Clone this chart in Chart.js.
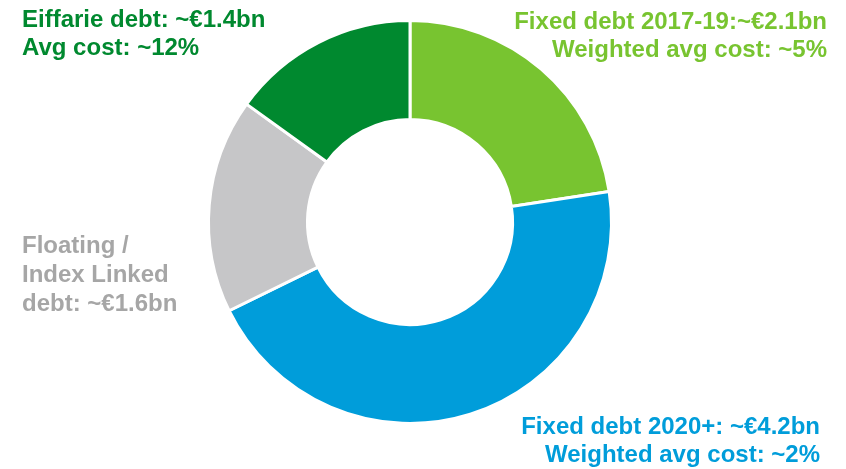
<!DOCTYPE html>
<html>
<head>
<meta charset="utf-8">
<script src="https://cdn.jsdelivr.net/npm/chart.js@4"></script>
<style>
  html, body { margin: 0; padding: 0; background: #fff; }
  #wrap { width: 846px; height: 469px; position: relative; }
</style>
</head>
<body>
<div id="wrap"><canvas id="debt"></canvas></div>
<script>
// segments, clockwise from 12 o'clock
const categories = ["Fixed debt 2017-19", "Fixed debt 2020+", "Floating / Index Linked", "Eiffarie debt"];
const amounts = [2.1, 4.2, 1.6, 1.4]; // €bn
const colors = ["#78c430", "#009dda", "#c6c6c8", "#00892f"];

// callout texts (one array of lines per segment)
const calloutLines = [
  ["Fixed debt 2017-19:~€2.1bn", "Weighted avg cost: ~5%"],
  ["Fixed debt 2020+: ~€4.2bn", "Weighted avg cost: ~2%"],
  ["Floating /", "Index Linked", "debt: ~€1.6bn"],
  ["Eiffarie debt: ~€1.4bn", "Avg cost: ~12%"]
];
const calloutColors = ["#78c430", "#009dda", "#a6a6a6", "#00892f"];

// where each callout sits: anchor x, first baseline, alignment
const calloutPos = [
  { x: 827, y: 29, align: "right" },
  { x: 820, y: 434, align: "right" },
  { x: 22, y: 253, align: "left" },
  { x: 22, y: 27, align: "left" }
];

const callouts = {
  id: "callouts",
  afterDraw(chart) {
    const ctx = chart.ctx;
    ctx.save();
    ctx.font = "bold 24px 'Liberation Sans', Arial, sans-serif";
    ctx.textBaseline = "alphabetic";
    calloutLines.forEach((lines, i) => {
      const p = calloutPos[i];
      ctx.fillStyle = calloutColors[i];
      ctx.textAlign = p.align;
      const lh = lines.length > 2 ? 29 : 27.5;
      lines.forEach((t, j) => ctx.fillText(t, p.x, p.y + j * lh));
    });
    ctx.restore();
  }
};

new Chart(document.getElementById("debt"), {
  type: "doughnut",
  data: {
    labels: categories,
    datasets: [{
      data: amounts,
      backgroundColor: colors,
      borderColor: "#ffffff",
      borderWidth: 3,
      hoverOffset: 0
    }]
  },
  options: {
    responsive: true,
    maintainAspectRatio: false,
    animation: false,
    radius: 201.5,
    cutout: 101,
    layout: { padding: { top: 22, bottom: 47, left: 10, right: 36 } },
    plugins: {
      legend: { display: false },
      tooltip: { enabled: false }
    }
  },
  plugins: [callouts]
});
</script>
</body>
</html>
